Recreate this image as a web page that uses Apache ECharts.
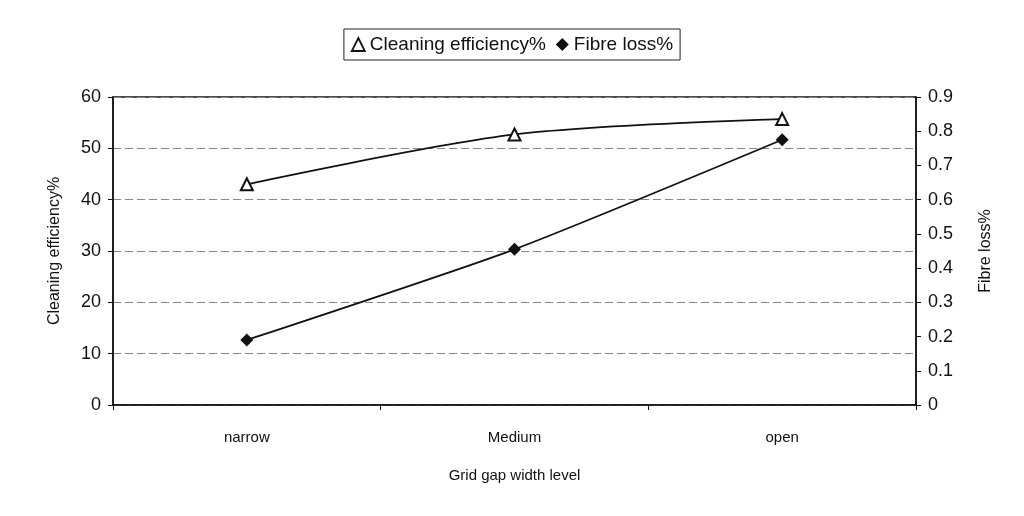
<!DOCTYPE html>
<html>
<head>
<meta charset="utf-8">
<script src="https://cdn.jsdelivr.net/npm/echarts@6/dist/echarts.min.js"></script>
<style>
  html, body { margin: 0; padding: 0; background: #fff; }
  #main { width: 1024px; height: 516px; }
</style>
</head>
<body>
<div id="main"></div>
<script>
// grid gap levels
var categories = ['narrow', 'Medium', 'open'];
// values
var cleaningEff = [43.0, 52.7, 55.7];
var fibreLoss = [0.19, 0.455, 0.775];

var leftTicks = { min: 0, max: 60, interval: 10 };
var rightTicks = { min: 0, max: 0.9, interval: 0.1 };

var chartDom = document.getElementById('main');
var myChart = echarts.init(chartDom);
var font = 'Liberation Sans, Arial, sans-serif';
var option;
option = {
  backgroundColor: '#fff',
  textStyle: { fontFamily: font },
  legend: {
    top: 29,
    left: 'center',
    itemGap: 10,
    itemWidth: 13,
    itemHeight: 13,
    padding: [6, 7, 6, 7],
    borderColor: '#222',
    borderWidth: 1,
    textStyle: { color: '#111', fontSize: 19, fontFamily: font },
    data: [
      { name: 'Cleaning efficiency%', icon: 'triangle', itemStyle: { color: '#fff', borderColor: '#111', borderWidth: 1.8 } },
      { name: 'Fibre loss%', icon: 'diamond', itemStyle: { color: '#111' } }
    ]
  },
  grid: {
    left: 113,
    right: 108,
    top: 97,
    bottom: 111,
    show: true,
    borderColor: '#111',
    borderWidth: 1.5
  },
  xAxis: {
    type: 'category',
    data: categories,
    boundaryGap: true,
    name: 'Grid gap width level',
    nameLocation: 'middle',
    nameGap: 63,
    nameTextStyle: { color: '#111', fontSize: 15 },
    axisLine: { lineStyle: { color: '#111', width: 1.5 } },
    axisTick: { show: true, length: 5, lineStyle: { color: '#111' } },
    axisLabel: { color: '#111', fontSize: 15, margin: 25 }
  },
  yAxis: [
    {
      type: 'value',
      min: leftTicks.min,
      max: leftTicks.max,
      interval: leftTicks.interval,
      name: 'Cleaning efficiency%',
      nameLocation: 'middle',
      nameRotate: 90,
      nameGap: 50,
      nameTextStyle: { color: '#111', fontSize: 16 },
      axisLine: { show: true, lineStyle: { color: '#111', width: 1.5 } },
      axisTick: { show: true, length: 5, lineStyle: { color: '#111' } },
      axisLabel: { color: '#111', fontSize: 18, margin: 12 },
      splitLine: { show: true, lineStyle: { color: '#888', type: [8, 4], width: 1 } }
    },
    {
      type: 'value',
      min: rightTicks.min,
      max: rightTicks.max,
      interval: rightTicks.interval,
      name: 'Fibre loss%',
      nameLocation: 'middle',
      nameRotate: 90,
      nameGap: 62,
      nameTextStyle: { color: '#111', fontSize: 16 },
      axisLine: { show: true, lineStyle: { color: '#111', width: 1.5 } },
      axisTick: { show: true, length: 5, lineStyle: { color: '#111' } },
      axisLabel: { color: '#111', fontSize: 18, margin: 12 },
      splitLine: { show: false }
    }
  ],
  series: [
    {
      name: 'Cleaning efficiency%',
      type: 'line',
      yAxisIndex: 0,
      data: cleaningEff,
      smooth: 0.3,
      symbol: 'triangle',
      symbolSize: 12,
      itemStyle: { color: '#fff', borderColor: '#111', borderWidth: 2 },
      lineStyle: { color: '#111', width: 1.8 }
    },
    {
      name: 'Fibre loss%',
      type: 'line',
      yAxisIndex: 1,
      data: fibreLoss,
      smooth: 0.2,
      symbol: 'diamond',
      symbolSize: 13,
      itemStyle: { color: '#111' },
      lineStyle: { color: '#111', width: 1.8 }
    }
  ]
};
option && myChart.setOption(option);
</script>
</body>
</html>
